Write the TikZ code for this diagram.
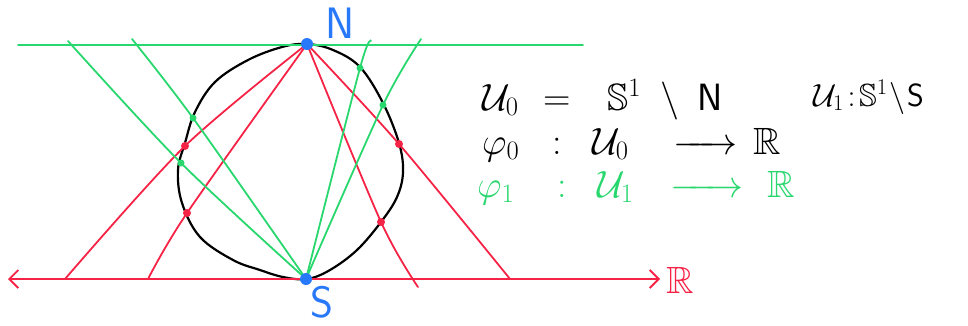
\RequirePackage{fix-cm}
\documentclass[tikz,border=0pt]{standalone}
\usepackage{amssymb}
\usetikzlibrary{arrows.meta}
\definecolor{gr}{RGB}{40,215,110}
\definecolor{rd}{RGB}{245,35,70}
\definecolor{bl}{RGB}{40,120,250}
\begin{document}
\begin{tikzpicture}[x=1pt,y=-1pt,
  circ/.style={draw=black,line width=2.2pt},
  rline/.style={draw=rd,line width=1.8pt,line cap=round},
  gline/.style={draw=gr,line width=1.8pt,line cap=round},
  gdot/.style={circle,fill=gr,inner sep=0,minimum size=7pt},
  rdot/.style={circle,fill=rd,inner sep=0,minimum size=8pt},
  pole/.style={circle,fill=bl,inner sep=0,minimum size=12pt},
  txt/.style={inner sep=0,anchor=base west,font=\fontsize{38}{44}\selectfont},
  lbl/.style={inner sep=0,text=bl,font=\fontsize{44}{50}\selectfont\sffamily}]
\useasboundingbox (0,0) rectangle (968,325);
% key points
\coordinate (N) at (307,44);
\coordinate (S) at (306,279);
% circle (hand drawn)
\draw[circ] plot[smooth cycle,tension=0.6] coordinates {
  (307,44) (333,50) (360,67) (383,103) (399,143) (403,172) (397,197)
  (381,222) (357,250) (330,270) (307,279) (283,277) (260,270) (233,260)
  (200,237) (182,203) (178,170) (185,143) (195,112) (215,82) (248,60) (282,47)};
% points on the circle
\coordinate (r1) at (185,146);
\coordinate (r2) at (187,213);
\coordinate (r3) at (381,222);
\coordinate (r4) at (399,144);
\coordinate (g1) at (181,163);
\coordinate (g2) at (193,118);
\coordinate (g3) at (360,68);
\coordinate (g4) at (383,105);
% ends of the lines
\coordinate (r1e) at (65,279);
\coordinate (r2e) at (148,279);
\coordinate (r3e) at (418,287);
\coordinate (r4e) at (510,279);
\coordinate (g1e) at (68,41);
\coordinate (g2e) at (132,39);
\coordinate (g3e) at (371,41);
\coordinate (g4e) at (421,39);
% axes
\coordinate (axL) at (8,279);
\coordinate (axR) at (660,279);
\coordinate (gL) at (18,45);
\coordinate (gR) at (583,45);
% red lines from N
\draw[rline] plot[smooth,tension=0.5] coordinates {(N) (r1) (r1e)};
\draw[rline] plot[smooth,tension=0.5] coordinates {(N) (r2) (r2e)};
\draw[rline] plot[smooth,tension=0.5] coordinates {(N) (r3) (r3e)};
\draw[rline] plot[smooth,tension=0.5] coordinates {(N) (r4) (r4e)};
% green lines from S
\draw[gline] plot[smooth,tension=0.5] coordinates {(S) (g1) (g1e)};
\draw[gline] plot[smooth,tension=0.5] coordinates {(S) (g2) (g2e)};
\draw[gline] plot[smooth,tension=0.5] coordinates {(S) (g3) (g3e)};
\draw[gline] plot[smooth,tension=0.5] coordinates {(S) (g4) (g4e)};
% lines
\draw[gline] (gL) -- (gR);
\draw[rline,{Straight Barb[length=9pt,width=18pt]}-{Straight Barb[length=9pt,width=18pt]}] (axL) -- (axR);
% dots
\foreach \p in {r1,r2,r3,r4} \node[rdot] (d\p) at (\p) {};
\foreach \p in {g1,g2,g3,g4} \node[gdot] (d\p) at (\p) {};
\node[pole] (Nd) at (N) {};
\node[pole] (Sd) at (S) {};
% labels
\node[lbl] (Nl) at (340,23) {N};
\node[lbl] (Sl) at (322,302) {S};
\node[txt,text=rd,anchor=west] (Rl) at (666,280) {$\mathbb{R}$};
% line 1
\node[txt] (l1) at (482,110) {\makebox[61pt][l]{$\mathcal{U}_0$}\makebox[64pt][l]{$=$}\makebox[53pt][l]{$\mathbb{S}^1$}\makebox[37pt][l]{$\setminus$}$\mathsf{N}$};
\node[txt,font=\fontsize{32}{38}\selectfont] (l1b) at (813,106) {$\mathcal{U}_1\!:\!\mathbb{S}^1\!\setminus\!\mathsf{S}$};
% line 2
\node[txt] (l2) at (482,154) {\makebox[70pt][l]{$\varphi_0$}\makebox[40pt][l]{$:$}\makebox[81pt][l]{$\mathcal{U}_0$}\makebox[80pt][l]{\makebox[64pt]{\rightarrowfill}}$\mathbb{R}$};
% line 3
\node[txt,text=gr] (l3) at (477,197) {\makebox[80pt][l]{$\varphi_1$}\makebox[40pt][l]{$:$}\makebox[73pt][l]{$\mathcal{U}_1$}\makebox[97pt][l]{\makebox[73pt]{\rightarrowfill}}$\mathbb{R}$};
\end{tikzpicture}
\end{document}
